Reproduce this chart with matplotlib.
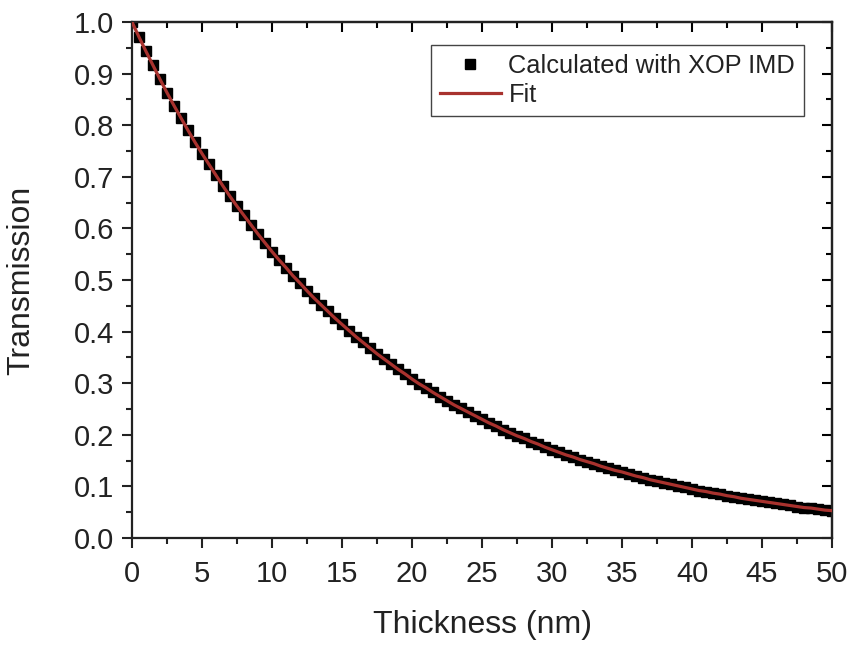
import numpy as np
import matplotlib.pyplot as plt
from matplotlib.ticker import MultipleLocator

plt.rcParams['font.family'] = ['Liberation Sans', 'DejaVu Sans']

# thickness (nm), sampled every 0.5 nm
thickness = [i * 0.5 for i in range(101)]
transmission = [
    1.000, 0.971, 0.943, 0.916, 0.889, 0.863, 0.838, 0.814, 0.790, 0.767,
    0.745, 0.724, 0.703, 0.682, 0.662, 0.643, 0.625, 0.607, 0.589, 0.572,
    0.555, 0.539, 0.524, 0.508, 0.494, 0.479, 0.465, 0.452, 0.439, 0.426,
    0.414, 0.402, 0.390, 0.379, 0.368, 0.357, 0.347, 0.337, 0.327, 0.318,
    0.308, 0.299, 0.291, 0.282, 0.274, 0.266, 0.258, 0.251, 0.244, 0.237,
    0.230, 0.223, 0.217, 0.210, 0.204, 0.198, 0.193, 0.187, 0.182, 0.176,
    0.171, 0.166, 0.161, 0.157, 0.152, 0.148, 0.144, 0.139, 0.135, 0.131,
    0.128, 0.124, 0.120, 0.117, 0.113, 0.110, 0.107, 0.104, 0.101, 0.098,
    0.095, 0.092, 0.090, 0.087, 0.085, 0.082, 0.080, 0.077, 0.075, 0.073,
    0.071, 0.069, 0.067, 0.065, 0.063, 0.061, 0.059, 0.058, 0.056, 0.054,
    0.053,
]
fit_values = transmission

fig = plt.figure(figsize=(8.51, 6.45), dpi=100)
ax = fig.add_axes([0.1551, 0.1659, 0.8226, 0.800])

ax.plot(thickness, transmission, 's', color='black', markersize=6.5,
        label='Calculated with XOP IMD', zorder=2)
ax.plot(thickness, fit_values, '-', color='#a8322e', linewidth=2.3,
        label='Fit', zorder=3)

ax.set_xlim(0, 50)
ax.set_ylim(0, 1.0)
ax.xaxis.set_major_locator(MultipleLocator(5))
ax.xaxis.set_minor_locator(MultipleLocator(2.5))
ax.yaxis.set_major_locator(MultipleLocator(0.1))
ax.yaxis.set_minor_locator(MultipleLocator(0.05))
ax.set_yticks(ax.get_yticks())
ax.set_yticklabels([f'{v:.1f}' for v in ax.get_yticks()])
ax.set_ylim(0, 1.0)

# origin style: ticks out on left/bottom, in on top/right
ax.tick_params(which='both', direction='out', labelsize=21, width=1.5,
               color='#222222', labelcolor='#222222')
ax.tick_params(axis='x', which='both', pad=9)
ax.tick_params(axis='y', which='both', pad=6)
ax.tick_params(which='major', length=7)
ax.tick_params(which='minor', length=4)
ax2x = ax.secondary_xaxis('top')
ax2x.xaxis.set_major_locator(MultipleLocator(5))
ax2x.xaxis.set_minor_locator(MultipleLocator(2.5))
ax2x.tick_params(which='both', direction='in', labeltop=False, width=1.5)
ax2x.tick_params(which='major', length=7)
ax2x.tick_params(which='minor', length=4)
ax2y = ax.secondary_yaxis('right')
ax2y.yaxis.set_major_locator(MultipleLocator(0.1))
ax2y.yaxis.set_minor_locator(MultipleLocator(0.05))
ax2y.tick_params(which='both', direction='in', labelright=False, width=1.5)
ax2y.tick_params(which='major', length=7)
ax2y.tick_params(which='minor', length=4)
for s in list(ax.spines.values()) + [ax2x.spines['top'], ax2y.spines['right']]:
    s.set_linewidth(1.6)
    s.set_color('#222222')

ax.set_xlabel('Thickness (nm)', fontsize=23, labelpad=16, color='#222222')
ax.set_ylabel('Transmission', fontsize=23, labelpad=27, color='#222222')

leg = ax.legend(loc='upper right', bbox_to_anchor=(0.96, 0.955), fontsize=18.3,
                fancybox=False, edgecolor='#444444', framealpha=1,
                borderpad=0.35, handlelength=2.4, handletextpad=0.3,
                labelspacing=0.2, borderaxespad=0)
leg.get_frame().set_linewidth(1.0)
for t in leg.get_texts():
    t.set_color('#222222')

fig.savefig('out.png', dpi=100)
